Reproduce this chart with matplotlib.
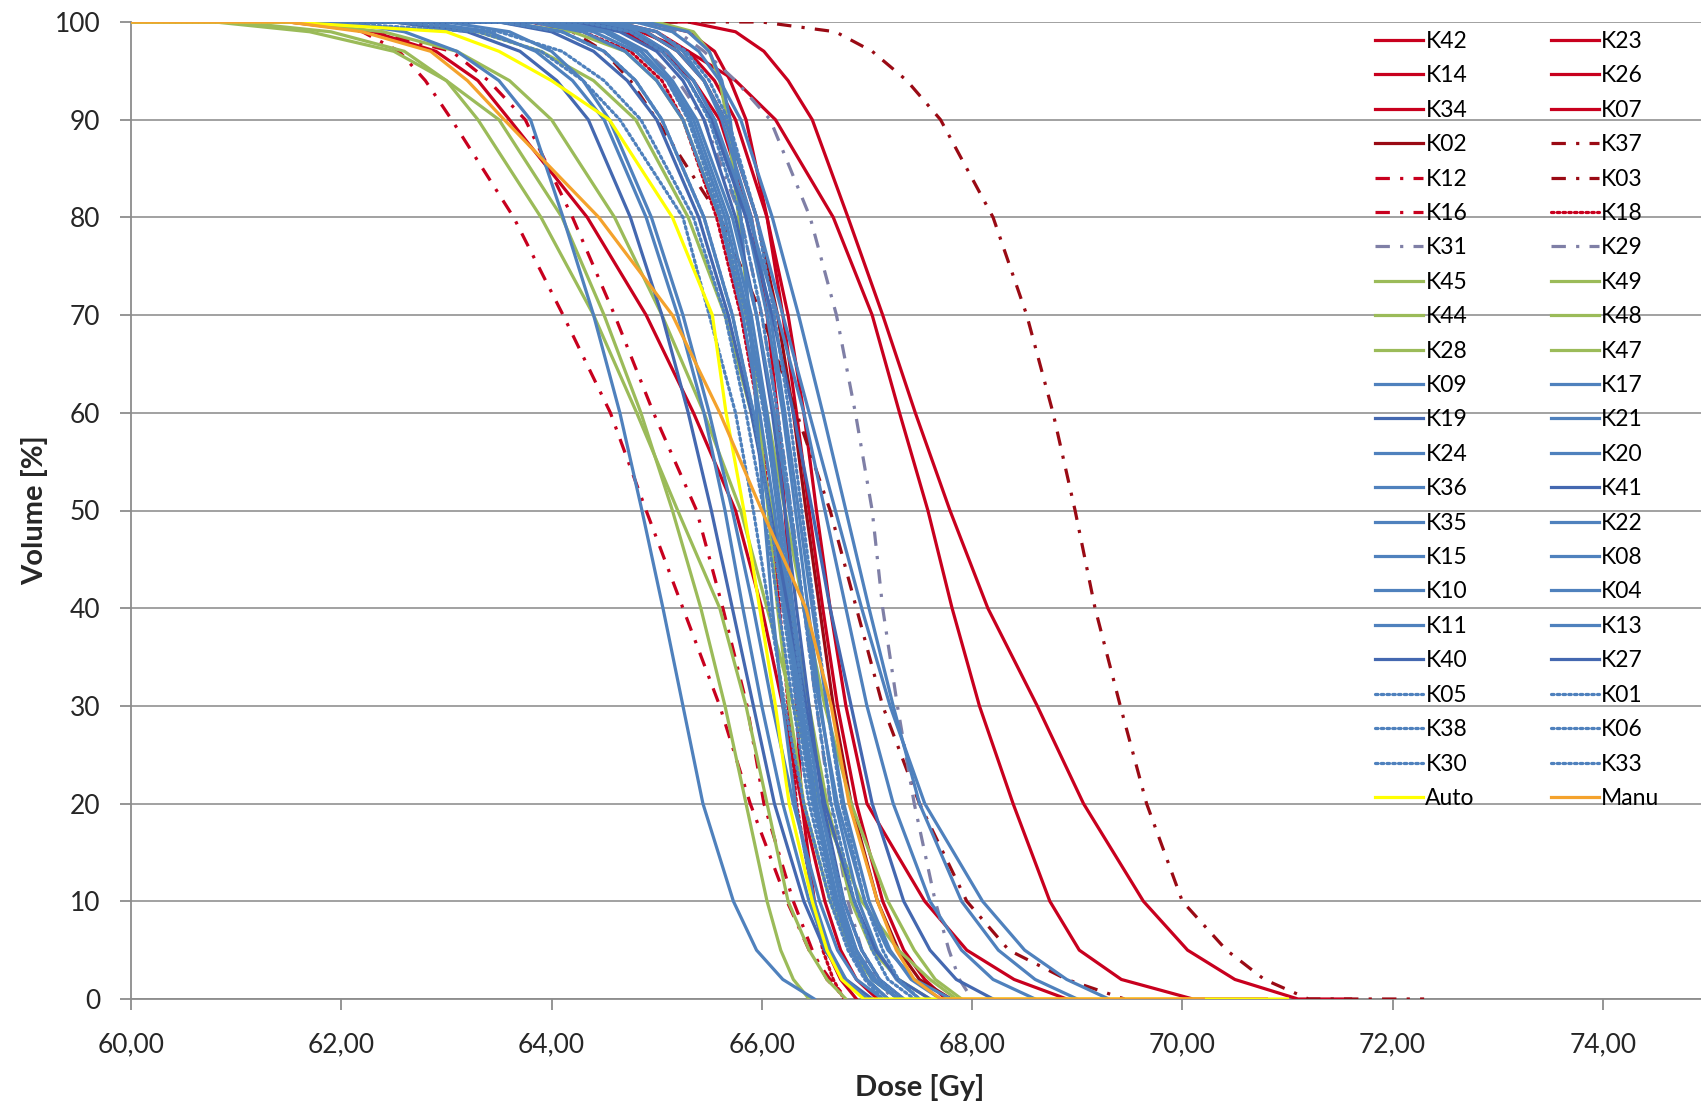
import matplotlib
matplotlib.use("Agg")
import matplotlib.pyplot as plt

# cumulative DVH: dose [Gy] reached at each volume level [%]
volume = [100, 99, 97, 94, 90, 80, 70, 60, 50, 40, 30, 20, 10, 5, 2, 0]

K42 = [65.3, 65.75, 66.02, 66.25, 66.48, 66.82, 67.15, 67.46, 67.79, 68.15, 68.62, 69.06, 69.63, 70.05, 70.5, 71.1]
K23 = [64.3, 64.85, 65.3, 65.75, 66.13, 66.68, 67.05, 67.31, 67.58, 67.81, 68.07, 68.39, 68.74, 69.02, 69.42, 70.1]
K14 = [61.5, 62.3, 62.9, 63.3, 63.6, 64.34, 64.9, 65.35, 65.75, 66.0, 66.2, 66.38, 66.6, 66.75, 66.9, 67.1]
K26 = [64.6, 65.0, 65.3, 65.55, 65.75, 66.05, 66.25, 66.4, 66.52, 66.65, 66.8, 67.0, 67.55, 67.95, 68.4, 68.9]
K34 = [64.2, 64.7, 65.05, 65.35, 65.6, 65.9, 66.05, 66.15, 66.22, 66.28, 66.33, 66.38, 66.5, 66.62, 66.75, 66.9]
K07 = [64.9, 65.3, 65.55, 65.7, 65.85, 66.05, 66.2, 66.33, 66.45, 66.58, 66.72, 66.9, 67.15, 67.35, 67.55, 67.75]
K02 = [64.5, 64.9, 65.2, 65.45, 65.65, 65.95, 66.15, 66.3, 66.42, 66.55, 66.68, 66.85, 67.1, 67.3, 67.5, 67.8]
K37 = [63.8, 64.2, 64.5, 64.75, 65.0, 65.6, 66.0, 66.33, 66.65, 66.9, 67.15, 67.5, 67.95, 68.35, 68.9, 69.45]
K12 = [61.8, 62.2, 62.55, 62.8, 63.05, 63.64, 64.11, 64.56, 64.9, 65.25, 65.6, 65.89, 66.24, 66.45, 66.65, 66.81]
K03 = [66.0, 66.7, 67.05, 67.38, 67.7, 68.2, 68.52, 68.77, 68.98, 69.17, 69.41, 69.66, 70.0, 70.42, 70.78, 71.2]
K16 = [61.8, 62.3, 63.05, 63.4, 63.75, 64.2, 64.6, 64.97, 65.38, 65.63, 65.86, 66.02, 66.3, 66.48, 66.62, 66.8]
K18 = [63.8, 64.3, 64.75, 65.05, 65.25, 65.57, 65.8, 65.97, 66.08, 66.17, 66.25, 66.33, 66.49, 66.58, 66.68, 66.78]
K31 = [64.8, 65.2, 65.45, 65.75, 66.08, 66.46, 66.71, 66.89, 67.05, 67.15, 67.29, 67.45, 67.65, 67.78, 67.88, 68.0]
K29 = [64.0, 64.5, 64.9, 65.2, 65.45, 65.8, 66.0, 66.15, 66.28, 66.4, 66.52, 66.65, 66.82, 66.95, 67.08, 67.25]
K45 = [61.0, 61.9, 62.6, 63.0, 63.3, 63.9, 64.4, 64.81, 65.2, 65.6, 65.85, 66.05, 66.25, 66.45, 66.62, 66.8]
K49 = [65.0, 65.35, 65.5, 65.6, 65.67, 65.78, 65.88, 65.97, 66.06, 66.15, 66.26, 66.4, 66.65, 66.85, 67.05, 67.3]
K44 = [60.8, 61.7, 62.5, 63.0, 63.5, 64.1, 64.5, 64.85, 65.15, 65.42, 65.65, 65.85, 66.05, 66.18, 66.3, 66.45]
K48 = [62.5, 63.3, 63.9, 64.4, 64.8, 65.3, 65.65, 65.9, 66.1, 66.28, 66.45, 66.62, 66.85, 67.05, 67.3, 67.6]
K28 = [63.5, 64.2, 64.7, 65.0, 65.25, 65.6, 65.85, 66.05, 66.22, 66.4, 66.6, 66.85, 67.2, 67.45, 67.65, 67.9]
K47 = [61.5, 62.4, 63.1, 63.6, 64.0, 64.6, 65.05, 65.45, 65.8, 66.05, 66.3, 66.55, 66.95, 67.3, 67.6, 67.85]
K09 = [62.0, 62.6, 63.1, 63.5, 63.8, 64.11, 64.4, 64.65, 64.86, 65.06, 65.25, 65.44, 65.73, 65.95, 66.2, 66.5]
K17 = [64.5, 64.9, 65.2, 65.45, 65.65, 65.95, 66.2, 66.45, 66.7, 66.95, 67.22, 67.55, 68.1, 68.5, 68.9, 69.3]
K19 = [62.5, 63.2, 63.7, 64.05, 64.35, 64.75, 65.05, 65.3, 65.52, 65.72, 65.92, 66.12, 66.4, 66.6, 66.8, 67.05]
K21 = [63.8, 64.3, 64.7, 65.0, 65.25, 65.6, 65.82, 65.98, 66.12, 66.24, 66.36, 66.5, 66.7, 66.85, 67.0, 67.2]
K24 = [64.8, 65.15, 65.4, 65.6, 65.8, 66.1, 66.35, 66.58, 66.8, 67.02, 67.25, 67.5, 67.9, 68.25, 68.6, 69.0]
K20 = [64.0, 64.5, 64.85, 65.12, 65.35, 65.68, 65.9, 66.05, 66.18, 66.3, 66.42, 66.55, 66.75, 66.9, 67.05, 67.3]
K36 = [64.9, 65.3, 65.5, 65.62, 65.7, 65.8, 65.88, 65.95, 66.02, 66.1, 66.2, 66.32, 66.5, 66.65, 66.8, 67.0]
K41 = [64.2, 64.65, 65.0, 65.25, 65.45, 65.75, 65.95, 66.1, 66.22, 66.33, 66.45, 66.58, 66.78, 66.95, 67.12, 67.35]
K35 = [63.0, 63.6, 64.0, 64.3, 64.55, 64.95, 65.25, 65.5, 65.72, 65.92, 66.1, 66.3, 66.55, 66.72, 66.9, 67.15]
K22 = [63.6, 64.1, 64.5, 64.8, 65.05, 65.45, 65.72, 65.92, 66.08, 66.22, 66.35, 66.5, 66.72, 66.9, 67.08, 67.3]
K15 = [64.4, 64.8, 65.1, 65.35, 65.55, 65.85, 66.05, 66.2, 66.32, 66.44, 66.56, 66.7, 66.92, 67.1, 67.28, 67.5]
K08 = [64.3, 64.8, 65.1, 65.35, 65.55, 65.88, 66.15, 66.4, 66.6, 66.8, 67.0, 67.25, 67.6, 67.9, 68.2, 68.6]
K10 = [63.9, 64.4, 64.8, 65.1, 65.32, 65.65, 65.87, 66.03, 66.15, 66.26, 66.38, 66.52, 66.72, 66.86, 67.0, 67.2]
K04 = [64.6, 65.0, 65.25, 65.45, 65.62, 65.9, 66.08, 66.22, 66.35, 66.48, 66.62, 66.78, 67.02, 67.22, 67.42, 67.7]
K11 = [62.8, 63.4, 63.85, 64.2, 64.5, 64.9, 65.2, 65.45, 65.65, 65.82, 66.0, 66.2, 66.45, 66.62, 66.78, 67.0]
K13 = [64.1, 64.55, 64.9, 65.15, 65.38, 65.72, 65.95, 66.12, 66.26, 66.4, 66.55, 66.72, 66.98, 67.2, 67.45, 67.8]
K40 = [63.5, 64.0, 64.4, 64.72, 65.0, 65.4, 65.68, 65.9, 66.08, 66.25, 66.42, 66.6, 66.88, 67.08, 67.3, 67.6]
K27 = [64.3, 64.75, 65.05, 65.3, 65.52, 65.85, 66.1, 66.3, 66.48, 66.65, 66.85, 67.05, 67.35, 67.6, 67.85, 68.2]
K05 = [61.8, 63.3, 63.9, 64.3, 64.65, 65.25, 65.5, 65.75, 65.92, 66.07, 66.22, 66.4, 66.65, 66.82, 66.98, 67.15]
K01 = [63.5, 64.1, 64.5, 64.8, 65.05, 65.45, 65.72, 65.92, 66.07, 66.2, 66.33, 66.48, 66.7, 66.88, 67.05, 67.3]
K38 = [64.0, 64.5, 64.85, 65.1, 65.3, 65.62, 65.85, 66.02, 66.16, 66.28, 66.4, 66.55, 66.78, 66.95, 67.12, 67.35]
K06 = [64.3, 64.75, 65.05, 65.3, 65.5, 65.8, 66.0, 66.15, 66.28, 66.4, 66.52, 66.66, 66.88, 67.05, 67.2, 67.45]
K30 = [62.5, 63.5, 64.1, 64.5, 64.85, 65.35, 65.65, 65.85, 66.02, 66.16, 66.3, 66.45, 66.68, 66.85, 67.0, 67.2]
K33 = [64.6, 65.0, 65.28, 65.5, 65.68, 65.95, 66.12, 66.26, 66.38, 66.5, 66.62, 66.76, 66.98, 67.15, 67.3, 67.5]
Auto = [61.5, 63.0, 63.5, 64.0, 64.55, 65.15, 65.53, 65.66, 65.83, 65.98, 66.13, 66.26, 66.48, 66.62, 66.76, 66.97]
Manu = [61.5, 62.2, 62.85, 63.2, 63.55, 64.45, 65.15, 65.6, 66.0, 66.42, 66.66, 66.83, 67.1, 67.28, 67.45, 67.7]

# last dose with a non-zero bin, where the curve runs along 0 %
tail_end = {"K03": 72.3, "K42": 71.6, "K23": 70.8, "Auto": 71.0, "Manu": 70.2}

names = ["K42", "K23", "K14", "K26", "K34", "K07", "K02", "K37", "K12", "K03",
         "K16", "K18", "K31", "K29", "K45", "K49", "K44", "K48", "K28", "K47",
         "K09", "K17", "K19", "K21", "K24", "K20", "K36", "K41", "K35", "K22",
         "K15", "K08", "K10", "K04", "K11", "K13", "K40", "K27", "K05", "K01",
         "K38", "K06", "K30", "K33", "Auto", "Manu"]
doses = {n: globals()[n] for n in names}

dose_ticks = [60, 62, 64, 66, 68, 70, 72, 74]

red, dark_red, grey_violet = "#C8001E", "#9A0A14", "#7F7FA6"
green, blue, blue2 = "#9BBB59", "#4F81BD", "#4468B0"
solid = "-"
dashdot = (0, (4.5, 3.2, 1, 3.2))
dotted = (0, (0.8, 1.0))

style = {}
for n in ["K42", "K23", "K14", "K26", "K34", "K07"]:
    style[n] = (red, solid)
style["K02"] = (dark_red, solid)
style["K37"] = (dark_red, dashdot)
style["K12"] = (red, dashdot)
style["K03"] = (dark_red, dashdot)
style["K16"] = (red, dashdot)
style["K18"] = (red, dotted)
style["K31"] = (grey_violet, dashdot)
style["K29"] = (grey_violet, dashdot)
for n in ["K45", "K49", "K44", "K48", "K28", "K47"]:
    style[n] = (green, solid)
for n in names[20:38]:
    style[n] = (blue, solid)
for n in ["K19", "K41", "K40", "K27"]:
    style[n] = (blue2, solid)
for n in names[38:44]:
    style[n] = (blue, dotted)
style["Auto"] = ("#FFFF00", solid)
style["Manu"] = ("#F4A22C", solid)

plt.rcParams["font.family"] = ["Lato", "DejaVu Sans"]

fig = plt.figure(figsize=(17.01, 11.05), dpi=100)
ax = fig.add_axes([131 / 1701, 1 - 999 / 1105, 1577 / 1701, 977 / 1105])

lines = {}
for n in names:
    x = [60.0] + doses[n]
    y = [100] + volume
    if n in tail_end:
        x = x + [tail_end[n]]
        y = y + [0]
    color, ls = style[n]
    kw = dict(dash_capstyle="round") if ls == dotted else {}
    lines[n], = ax.plot(x, y, color=color, linestyle=ls, linewidth=2.3,
                        label=n, solid_joinstyle="round", zorder=3, **kw)

ax.set_xlim(60, 75)
ax.set_ylim(0, 100)
ax.set_xticks(dose_ticks)
ax.set_xticklabels([f"{t:.2f}".replace(".", ",") for t in dose_ticks])
ax.set_yticks(range(0, 101, 10))
ax.grid(axis="y", color="#9A9A9A", linewidth=1.3)
ax.set_axisbelow(True)
for side in ["top", "right"]:
    ax.spines[side].set_visible(False)
for side in ["left", "bottom"]:
    ax.spines[side].set_color("#8C8C8C")
    ax.spines[side].set_linewidth(1.3)
ax.tick_params(axis="both", colors="#8C8C8C", labelcolor="#262626",
               labelsize=19, length=8, width=1.3)
ax.tick_params(axis="y", pad=14)
ax.tick_params(axis="x", pad=16)

ax.set_xlabel("Dose [Gy]", fontsize=21, fontweight="bold", color="#262626", labelpad=12)
ax.set_ylabel("Volume [%]", fontsize=21, fontweight="bold", color="#262626", labelpad=5)

# legend entries run row by row across two columns
col1 = names[0::2]
col2 = names[1::2]
order = col1 + col2
fig.legend([lines[n] for n in order], order, loc="upper left",
           bbox_to_anchor=(1375 / 1701, 1 - 31 / 1105), ncol=2, frameon=False,
           fontsize=16.5, handlelength=2.1, handletextpad=0.1,
           labelspacing=0.585, columnspacing=3.3, borderpad=0, borderaxespad=0)

fig.savefig("out.png", dpi=100)
